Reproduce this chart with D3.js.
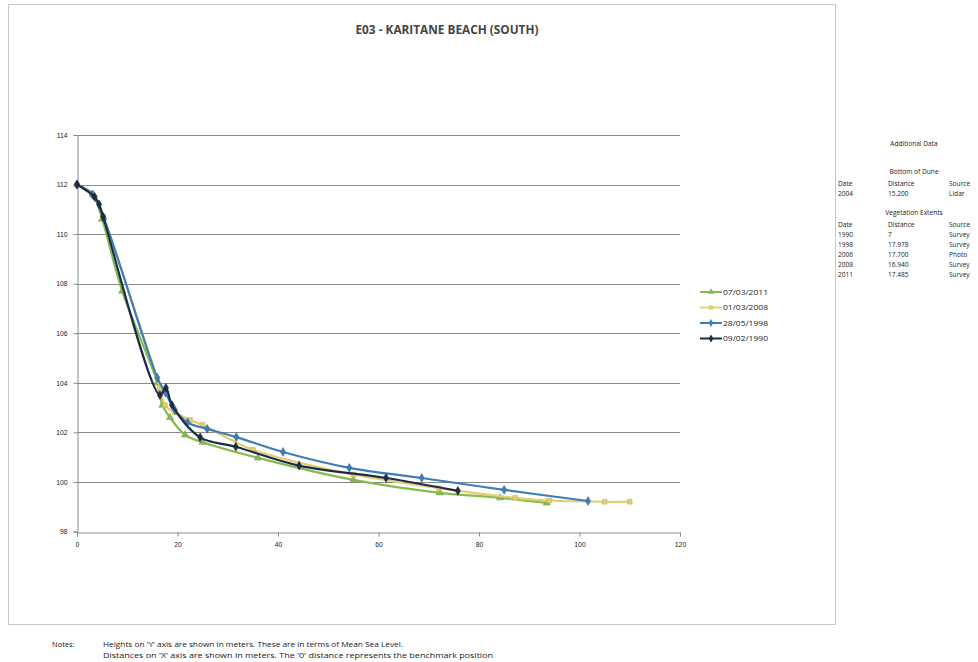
<!DOCTYPE html>
<html>
<head>
<meta charset="utf-8">
<script src="https://cdn.jsdelivr.net/npm/d3@7"></script>
<style>
  html, body { margin: 0; padding: 0; background: #fff; }
  svg { display: block; font-family: "Open Sans", "Liberation Sans", sans-serif; }
</style>
</head>
<body>
<svg id="chart" width="978" height="662"></svg>
<script>
// Beach profile surveys: distance from benchmark (m) vs height above MSL (m)
const seriesNames = ["07/03/2011", "01/03/2008", "28/05/1998", "09/02/1990"];
const seriesColors = ["#86bb4f", "#e3cf6e", "#3f7db6", "#1e2b47"];

const dist2011 = [0, 3.2, 5.0, 9.0, 16.0, 17.0, 18.5, 21.5, 25.0, 36.0, 55.0, 72.2, 84.2, 93.5];
const height2011 = [112, 111.6, 110.6, 107.7, 104.0, 103.1, 102.6, 101.9, 101.6, 100.97, 100.08, 99.56, 99.36, 99.15];

const dist2008 = [0, 3.5, 5.2, 16.5, 17.5, 19.5, 22.5, 25.0, 35.0, 55.0, 72.0, 87.2, 94.0, 105.0, 110.0];
const height2008 = [112, 111.5, 110.7, 103.8, 103.1, 102.8, 102.5, 102.3, 101.3, 100.3, 99.75, 99.36, 99.25, 99.2, 99.2];

const dist1998 = [0, 3.0, 5.4, 16.0, 17.6, 19.5, 22.0, 25.9, 31.7, 41.0, 54.2, 68.6, 85.0, 101.7];
const height1998 = [112, 111.6, 110.6, 104.2, 103.6, 102.9, 102.4, 102.14, 101.81, 101.21, 100.57, 100.16, 99.68, 99.23];

const dist1990 = [0, 3.5, 4.4, 5.2, 16.5, 17.7, 18.9, 24.5, 31.6, 44.2, 61.5, 75.8];
const height1990 = [112, 111.5, 111.2, 110.7, 103.5, 103.8, 103.1, 101.8, 101.42, 100.66, 100.16, 99.64];

const xTicks = [0, 20, 40, 60, 80, 100, 120];
const yTicks = [98, 100, 102, 104, 106, 108, 110, 112, 114];

const dune = [["2004", "15.200", "Lidar"]];
const vegetation = [
  ["1990", "7", "Survey"],
  ["1998", "17.978", "Survey"],
  ["2006", "17.700", "Photo"],
  ["2008", "16.940", "Survey"],
  ["2011", "17.485", "Survey"]
];

const noteLines = [
  "Heights on 'Y' axis are shown in meters. These are in terms of Mean Sea Level.",
  "Distances on 'X' axis are shown in meters. The '0' distance represents the benchmark position"
];

const seriesData = [
  d3.zip(dist2011, height2011),
  d3.zip(dist2008, height2008),
  d3.zip(dist1998, height1998),
  d3.zip(dist1990, height1990)
];

const svg = d3.select("#chart");

// chart frame
svg.append("rect")
  .attr("x", 8.5).attr("y", 4.5).attr("width", 827).attr("height", 620)
  .attr("fill", "none").attr("stroke", "#c8c8c8").attr("stroke-width", 1);

const plot = { left: 77, right: 680, top: 135, bottom: 531.5 };
const x = d3.scaleLinear().domain([0, 120]).range([plot.left, plot.right]);
const y = d3.scaleLinear().domain([98, 114]).range([plot.bottom, plot.top]);

// horizontal gridlines
svg.append("g")
  .selectAll("line")
  .data(yTicks.slice(1))
  .join("line")
  .attr("x1", plot.left).attr("x2", plot.right)
  .attr("y1", d => Math.round(y(d)) + 0.5).attr("y2", d => Math.round(y(d)) + 0.5)
  .attr("stroke", "#8a8a8a").attr("stroke-width", 1.2);

// axes
const xAxis = svg.append("g")
  .attr("transform", `translate(0,${Math.round(plot.bottom) + 0.5})`)
  .call(d3.axisBottom(x).tickValues(xTicks).tickSize(4).tickPadding(6).tickFormat(d3.format("d")));
const yAxis = svg.append("g")
  .attr("transform", `translate(${plot.left + 0.5},0)`)
  .call(d3.axisLeft(y).tickValues(yTicks).tickSize(4).tickPadding(6).tickFormat(d3.format("d")));

[xAxis, yAxis].forEach(g => {
  g.select(".domain").attr("stroke", "#8a8a8a");
  g.selectAll(".tick line").attr("stroke", "#8a8a8a");
  g.selectAll(".tick text").attr("fill", "#222").attr("font-size", 6.8);
});

// profile lines
const line = d3.line()
  .x(d => x(d[0])).y(d => y(d[1]))
  .curve(d3.curveCatmullRom.alpha(0.5));

const symbols = [d3.symbolTriangle, d3.symbolSquare, d3.symbolDiamond, d3.symbolDiamond];

seriesData.forEach((data, i) => {
  const g = svg.append("g");
  g.append("path")
    .attr("d", line(data))
    .attr("fill", "none")
    .attr("stroke", seriesColors[i])
    .attr("stroke-width", 2.2);
  g.selectAll("path.pt")
    .data(data)
    .join("path")
    .attr("class", "pt")
    .attr("transform", d => `translate(${x(d[0])},${y(d[1])})`)
    .attr("d", d3.symbol().type(symbols[i]).size(22))
    .attr("fill", seriesColors[i])
    .attr("stroke", d3.color(seriesColors[i]).darker(0.4))
    .attr("stroke-width", 0.6);
});

// legend
const legend = svg.append("g").attr("transform", "translate(700,292)");
seriesNames.forEach((name, i) => {
  const row = legend.append("g").attr("transform", `translate(0,${i * 15.5})`);
  row.append("line").attr("x1", 0).attr("x2", 22).attr("y1", 0).attr("y2", 0)
    .attr("stroke", seriesColors[i]).attr("stroke-width", 2);
  row.append("path").attr("transform", "translate(11,0)")
    .attr("d", d3.symbol().type(symbols[i]).size(18))
    .attr("fill", seriesColors[i]);
  row.append("text").attr("x", 23).attr("y", 2.6)
    .attr("font-size", 7.5).attr("fill", "#222")
    .attr("textLength", 45).attr("lengthAdjust", "spacingAndGlyphs")
    .text(name);
});

// title
svg.append("text")
  .attr("x", 447).attr("y", 34)
  .attr("text-anchor", "middle")
  .attr("font-size", 12).attr("font-weight", "bold").attr("fill", "#444")
  .attr("textLength", 183).attr("lengthAdjust", "spacingAndGlyphs")
  .text("E03 - KARITANE BEACH (SOUTH)");

// additional data table
const tbl = svg.append("g").attr("font-size", 6.6).attr("fill", "#222");
const colX = [838, 888, 949];
function heading(txt, yy) {
  tbl.append("text").attr("x", 914).attr("y", yy).attr("text-anchor", "middle").text(txt);
}
function rowText(cells, yy) {
  cells.forEach((c, j) => {
    tbl.append("text").attr("x", colX[j]).attr("y", yy).text(c);
  });
}
heading("Additional Data", 146);
heading("Bottom of Dune", 174);
rowText(["Date", "Distance", "Source"], 186);
dune.forEach((r, i) => rowText(r, 196 + i * 10));
heading("Vegetation Extents", 215);
rowText(["Date", "Distance", "Source"], 227);
vegetation.forEach((r, i) => rowText(r, 237 + i * 10));

// notes
const notes = svg.append("g").attr("font-size", 7.5).attr("fill", "#222");
notes.append("text").attr("x", 52).attr("y", 647).text("Notes:");
const noteWidths = [300, 390];
noteLines.forEach((t, i) => {
  notes.append("text").attr("x", 103).attr("y", 647 + i * 11)
    .attr("textLength", noteWidths[i]).attr("lengthAdjust", "spacingAndGlyphs")
    .text(t);
});
</script>
</body>
</html>
